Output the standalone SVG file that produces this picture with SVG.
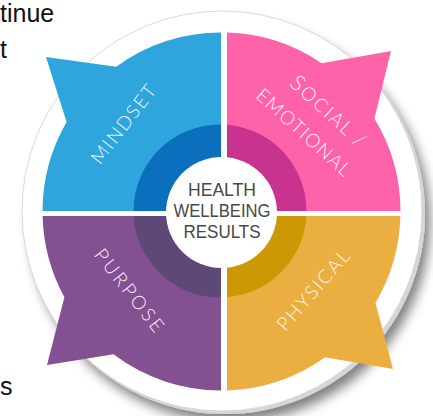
<svg xmlns="http://www.w3.org/2000/svg" width="433" height="416" viewBox="0 0 433 416">
  <style>
    .bg { font-family: "Liberation Sans", Arial, sans-serif; font-size: 25px; fill: #111; }
    .lbl { font-family: "Lato", "Open Sans", "DejaVu Sans", sans-serif; font-size: 19px; font-weight: 300; fill: #ffffff; fill-opacity: 0.95; text-anchor: middle; }
    .ctr { font-family: "Liberation Sans", Arial, sans-serif; font-size: 18px; fill: #474747; text-anchor: middle; }
  </style>
  <defs>
    <filter id="shadow" x="-20%" y="-20%" width="150%" height="150%">
      <feGaussianBlur in="SourceAlpha" stdDeviation="6"/>
      <feOffset dx="5" dy="8" result="o"/>
      <feComponentTransfer><feFuncA type="linear" slope="0.5"/></feComponentTransfer>
      <feMerge><feMergeNode/><feMergeNode in="SourceGraphic"/></feMerge>
    </filter>
    <clipPath id="cTL"><rect x="0" y="0" width="221" height="211"/></clipPath>
    <clipPath id="cTR"><rect x="227" y="0" width="206" height="211"/></clipPath>
    <clipPath id="cBL"><rect x="0" y="216" width="221" height="200"/></clipPath>
    <clipPath id="cBR"><rect x="227" y="216" width="206" height="200"/></clipPath>
  </defs>

  <rect width="433" height="416" fill="#ffffff"/>

  <g id="background-text">
    <text class="bg" x="0" y="22">tinue</text>
    <text class="bg" x="0" y="58">t</text>
    <text class="bg" x="0" y="395" font-size="20">s</text>
  </g>

  <g id="disc">
    <circle cx="225" cy="214" r="200" fill="#d6d6d6" filter="url(#shadow)"/>
    <circle cx="222" cy="211" r="200" fill="#ffffff" stroke="#cfcfcf" stroke-width="0.8"/>
  </g>

  <g id="node-mindset">
    <path d="M221,211 L221,32.5 A179,179 0 0 0 116.2,66.7 L46,57 L66.6,121.9 A179,179 0 0 0 42.5,211 Z" fill="#2ea5dd"/>
    <circle cx="220" cy="211" r="86.5" fill="#0b6fbd" clip-path="url(#cTL)"/>
    <text class="lbl" transform="translate(123,124) rotate(-52.5)" y="7" textLength="94" lengthAdjust="spacing">MINDSET</text>
  </g>

  <g id="node-social">
    <path d="M227,211 L227,32.6 A179,179 0 0 1 321.8,63.3 L391,51 L374.4,118.4 A179,179 0 0 1 400.5,211 Z" fill="#fe62a9"/>
    <circle cx="220" cy="211" r="86.5" fill="#c8338f" clip-path="url(#cTR)"/>
    <text class="lbl" transform="translate(328,111) rotate(42)" y="7" textLength="94" lengthAdjust="spacing"><tspan font-size="22">S</tspan>OCIAL /</text>
    <text class="lbl" transform="translate(304,132) rotate(42)" y="7" textLength="120" lengthAdjust="spacing">EMOTIONAL</text>
  </g>

  <g id="node-purpose">
    <path d="M221,216 L42.6,216 A179,179 0 0 0 64.4,297.2 L47,365 L113.5,354.3 A179,179 0 0 0 221,390.5 Z" fill="#835091"/>
    <circle cx="220" cy="211" r="86.5" fill="#5d4878" clip-path="url(#cBL)"/>
    <text class="lbl" transform="translate(129.5,290) rotate(52)" y="7" textLength="100" lengthAdjust="spacing">PURPOSE</text>
  </g>

  <g id="node-physical">
    <path d="M227,216 L400.4,216 A179,179 0 0 1 375.5,302.7 L393,369 L325.2,357.3 A179,179 0 0 1 227,390.4 Z" fill="#ebaf41"/>
    <circle cx="220" cy="211" r="86.5" fill="#cc9904" clip-path="url(#cBR)"/>
    <text class="lbl" transform="translate(313,290) rotate(-49)" y="7" textLength="100" lengthAdjust="spacing">PHYSICAL</text>
  </g>

  <g id="node-center">
    <circle cx="221.5" cy="212.5" r="55.5" fill="#ffffff"/>
    <text class="ctr" x="222" y="196" textLength="68" lengthAdjust="spacingAndGlyphs">HEALTH</text>
    <text class="ctr" x="222" y="217" textLength="97" lengthAdjust="spacingAndGlyphs">WELLBEING</text>
    <text class="ctr" x="222" y="238" textLength="77" lengthAdjust="spacingAndGlyphs">RESULTS</text>
  </g>

  <g id="connectors"/>
</svg>
